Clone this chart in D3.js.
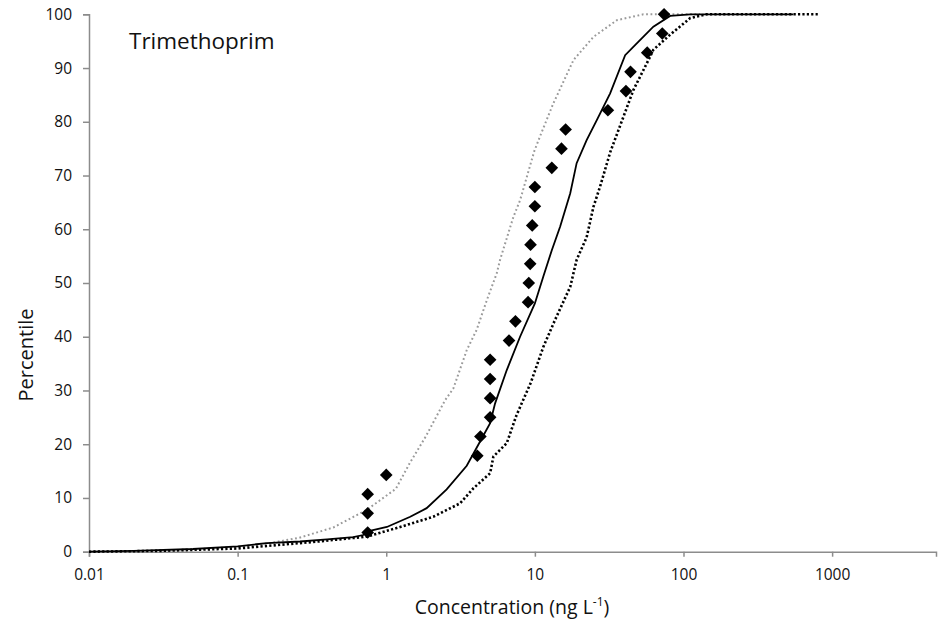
<!DOCTYPE html>
<html>
<head>
<meta charset="utf-8">
<script src="https://cdn.jsdelivr.net/npm/d3@7"></script>
<style>
  html, body { margin: 0; padding: 0; background: #fff; }
  svg { display: block; font-family: "Open Sans", sans-serif; }
</style>
</head>
<body>
<svg id="chart" width="940" height="622"></svg>
<script>
// ---- data ----
const chartTitle = "Trimethoprim";
const xTicks = [0.01, 0.1, 1, 10, 100, 1000];
const yTicks = [0, 10, 20, 30, 40, 50, 60, 70, 80, 90, 100];

// observed concentrations (diamonds)
const obsConc = [0.75, 0.75, 0.75, 1.0, 4.1, 4.3, 5.0, 5.0, 5.0, 5.0, 6.7, 7.4, 9.0, 9.1,
                 9.3, 9.35, 9.6, 10.0, 10.0, 13.0, 15.1, 16.1, 31, 41, 44, 57, 72, 74];
const obsPct  = [3.57, 7.14, 10.71, 14.29, 17.86, 21.43, 25.0, 28.57, 32.14, 35.71, 39.29,
                 42.86, 46.43, 50.0, 53.57, 57.14, 60.71, 64.29, 67.86, 71.43, 75.0, 78.57,
                 82.14, 85.71, 89.29, 92.86, 96.43, 100];

// modelled median (solid)
const medConc = [0.01, 0.02, 0.05, 0.1, 0.157, 0.263, 0.4, 0.6, 0.7, 0.75, 1.01, 1.45, 1.87,
                 2.55, 3.48, 4.28, 5.0, 5.4, 6.47, 7.95, 10.0, 11.4, 13.0, 14.8, 17.3, 19.1,
                 22.3, 26.1, 32.1, 40.5, 48.5, 62.7, 81.3, 111, 549];
const medPct  = [0, 0.15, 0.5, 1.0, 1.6, 1.9, 2.3, 2.7, 3.1, 3.8, 4.6, 6.5, 8.1,
                 11.6, 16.0, 20.5, 23.9, 27.6, 33.8, 40.0, 46.2, 51.2, 56.1, 60.5, 66.7, 72.3,
                 76.6, 80.3, 85.3, 92.4, 94.6, 97.7, 99.7, 100, 100];

// lower bound (grey dotted)
const lowConc = [0.01, 0.02, 0.05, 0.1, 0.165, 0.26, 0.44, 0.74, 1.16, 1.44, 1.85, 2.49, 2.83,
                 3.48, 4.06, 4.75, 5.54, 5.83, 7.17, 7.95, 9.9, 10.8, 13.3, 14.0, 18.2, 24.8,
                 35.6, 53.7, 129];
const lowPct  = [0, 0.1, 0.4, 0.9, 1.6, 2.6, 4.5, 7.8, 11.7, 16.5, 21.5, 28.2, 30.4,
                 37.5, 41.3, 46.8, 51.8, 54.3, 62.3, 65.4, 74.5, 77.2, 83.4, 84.7, 91.5, 95.8,
                 98.9, 100, 100];

// upper bound (black dotted)
const upConc = [0.01, 0.03, 0.1, 0.32, 0.74, 1.24, 2.07, 3.14, 3.86, 5.0, 5.26, 6.47, 7.5,
                9.4, 11.4, 13.6, 17.3, 19.1, 22.3, 24.8, 27.5, 32.1, 39.4, 46.0, 59.6, 62.7,
                81.3, 111, 143, 809];
const upPct  = [0, 0.15, 0.6, 1.8, 2.8, 4.6, 6.5, 9.0, 11.8, 14.6, 17.7, 20.2, 25.3,
                31.5, 38.1, 43.0, 49.3, 54.3, 58.5, 64.2, 68.0, 74.3, 80.9, 85.9, 92.1, 93.4,
                96.2, 99.3, 100, 100];

// ---- layout ----
const svg = d3.select("#chart");
const plotLeft = 89, plotRight = 936, plotTop = 14.3, plotBottom = 551.7;

const x = d3.scaleLog().domain([0.01, 5000]).range([plotLeft, plotRight]);
const y = d3.scaleLinear().domain([0, 100]).range([plotBottom, plotTop]);

const axisColor = "#8c8c8c";

// x axis
const gx = svg.append("g").attr("transform", `translate(0,${plotBottom})`)
  .call(d3.axisBottom(x).tickValues(xTicks).tickFormat(d3.format("~g")).tickSizeOuter(0).tickSize(5).tickPadding(12));
gx.select(".domain").attr("stroke", axisColor).attr("stroke-width", 1.5);
gx.selectAll(".tick line").attr("stroke", axisColor).attr("stroke-width", 1.5);
gx.selectAll(".tick text").attr("font-size", 15.5).attr("font-family", "Open Sans").attr("fill", "#111");

// y axis
const gy = svg.append("g").attr("transform", `translate(${plotLeft},0)`)
  .call(d3.axisLeft(y).tickValues(yTicks).tickSizeOuter(0).tickSize(6).tickPadding(11));
gy.select(".domain").attr("stroke", axisColor).attr("stroke-width", 1.5);
gy.selectAll(".tick line").attr("stroke", axisColor).attr("stroke-width", 1.5);
gy.selectAll(".tick text").attr("font-size", 15.5).attr("font-family", "Open Sans").attr("fill", "#111");

// lines
const mk = (cs, ps) => cs.map((c, i) => [c, ps[i]]);
const line = d3.line().x(d => x(d[0])).y(d => y(d[1]));

svg.append("path").datum(mk(lowConc, lowPct)).attr("d", line)
  .attr("fill", "none").attr("stroke", "#9a9a9a").attr("stroke-width", 2)
  .attr("stroke-dasharray", "1.8,2.6").attr("stroke-linecap", "butt");

svg.append("path").datum(mk(upConc, upPct)).attr("d", line)
  .attr("fill", "none").attr("stroke", "#000").attr("stroke-width", 2.6)
  .attr("stroke-dasharray", "2.2,2.2").attr("stroke-linecap", "butt");

svg.append("path").datum(mk(medConc, medPct)).attr("d", line)
  .attr("fill", "none").attr("stroke", "#000").attr("stroke-width", 1.8);

// diamonds
const diamond = d3.symbol().type(d3.symbolSquare).size(80);
svg.append("g").selectAll("path").data(mk(obsConc, obsPct)).join("path")
  .attr("d", diamond)
  .attr("transform", d => `translate(${x(d[0])},${y(d[1])}) rotate(45)`)
  .attr("fill", "#000");

// title inside plot
svg.append("text").attr("x", 129).attr("y", 48.5)
  .attr("font-size", 22.5).attr("fill", "#111").text(chartTitle);

// axis titles
const xt = svg.append("text").attr("x", 512).attr("y", 614)
  .attr("text-anchor", "middle").attr("font-size", 19.5).attr("fill", "#111");
xt.append("tspan").text("Concentration (ng L");
xt.append("tspan").attr("font-size", 12).attr("dy", -8).text("-1");
xt.append("tspan").attr("dy", 8).text(")");

svg.append("text").attr("transform", "translate(33,355) rotate(-90)")
  .attr("text-anchor", "middle").attr("font-size", 20).attr("fill", "#111").text("Percentile");
</script>
</body>
</html>
